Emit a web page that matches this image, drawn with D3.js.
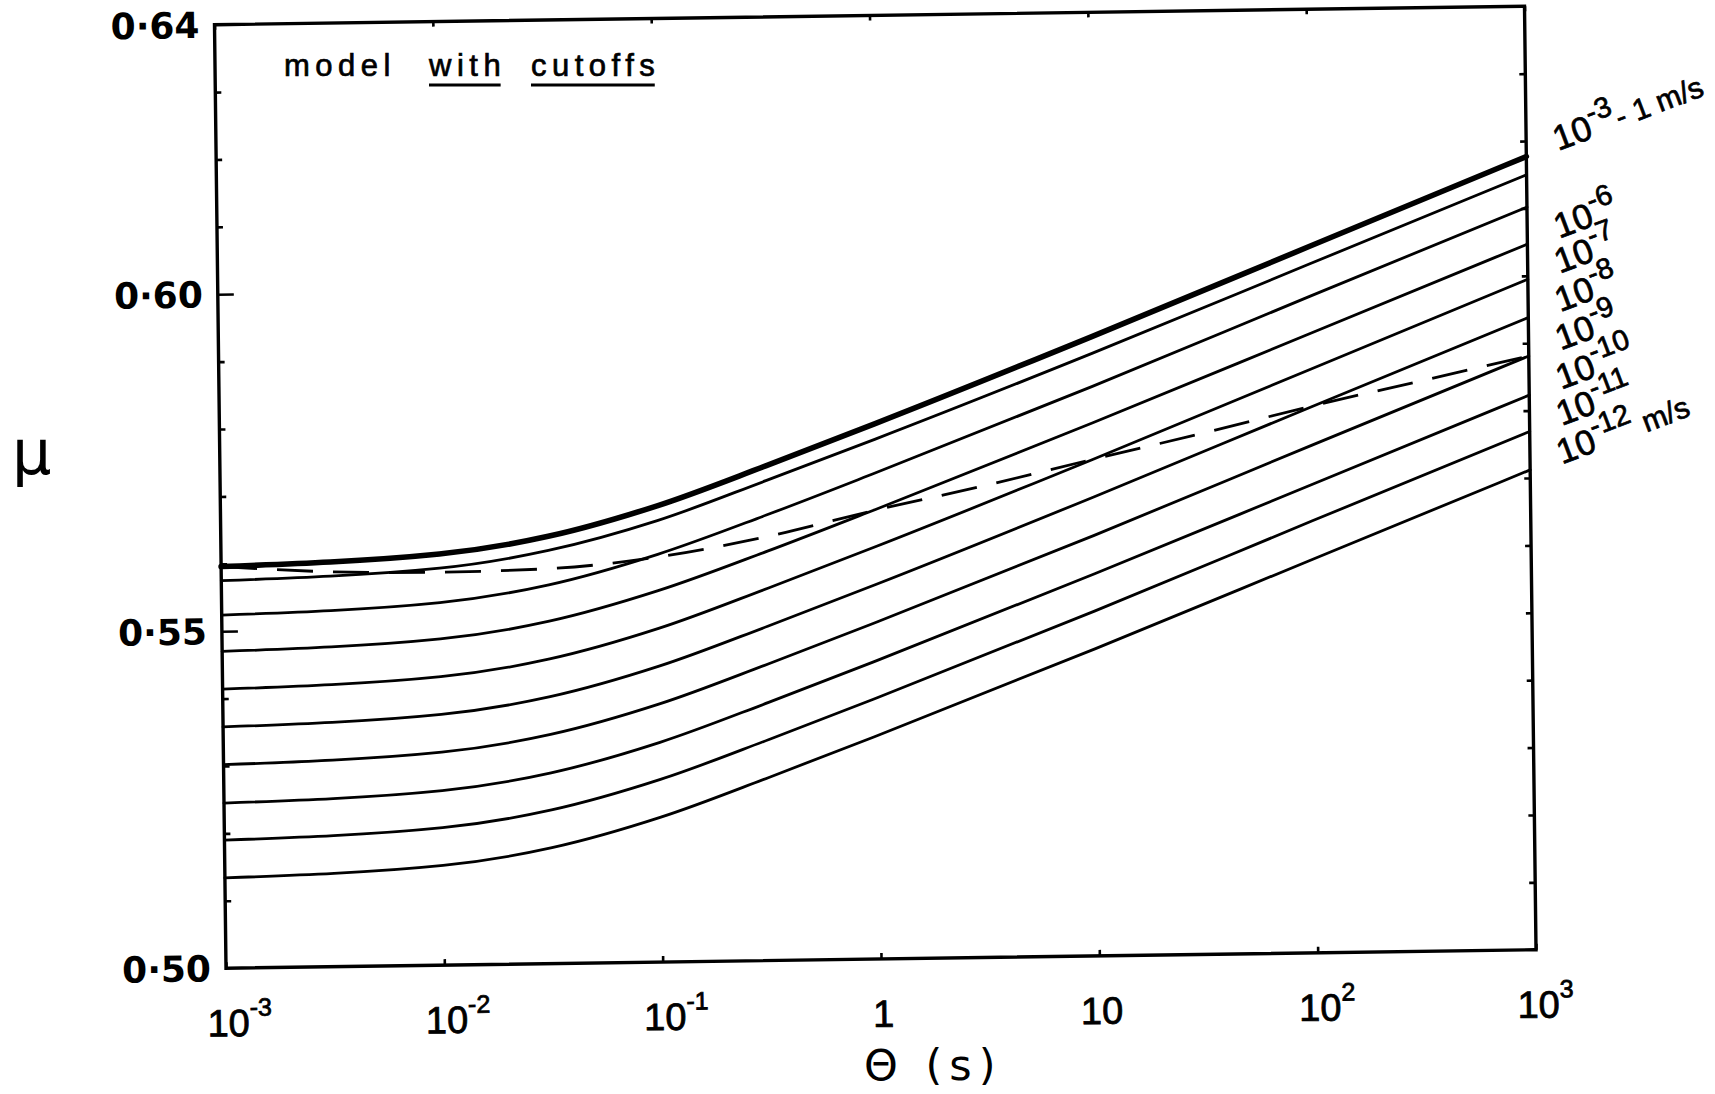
<!DOCTYPE html>
<html>
<head>
<meta charset="utf-8">
<script src="https://cdn.jsdelivr.net/npm/d3@7"></script>
<style>
body{margin:0;background:#fff;}
svg{display:block;}
text{fill:#000;}
.tick line{stroke:#000;stroke-width:2.6;}
</style>
</head>
<body>
<svg id="chart" width="1715" height="1094"></svg>
<script>
(function(){
var theta = [1e-3, 1e-2, 0.0316, 0.1, 0.316, 1, 10, 100, 1000];
// mu for each slip rate V
var muV3to1 = [0.5596, 0.5610, 0.5634, 0.5677, 0.5734, 0.5794, 0.5919, 0.6048, 0.6177];
var muV4  = [0.5575, 0.5589, 0.5613, 0.5655, 0.5712, 0.5771, 0.5894, 0.6022, 0.6150];
var muV5  = [0.5524, 0.5538, 0.5562, 0.5605, 0.5661, 0.5721, 0.5845, 0.5974, 0.6102];
var muV6  = [0.5470, 0.5484, 0.5508, 0.5551, 0.5607, 0.5667, 0.5791, 0.5919, 0.6047];
var muV7  = [0.5414, 0.5428, 0.5452, 0.5495, 0.5552, 0.5612, 0.5737, 0.5866, 0.5995];
var muV8  = [0.5358, 0.5372, 0.5396, 0.5439, 0.5496, 0.5556, 0.5681, 0.5810, 0.5938];
var muV9  = [0.5302, 0.5316, 0.5340, 0.5383, 0.5440, 0.5500, 0.5624, 0.5753, 0.5881];
var muV10 = [0.5245, 0.5259, 0.5283, 0.5326, 0.5383, 0.5443, 0.5567, 0.5695, 0.5823];
var muV11 = [0.5190, 0.5204, 0.5228, 0.5271, 0.5328, 0.5388, 0.5512, 0.5641, 0.5769];
var muV12 = [0.5134, 0.5148, 0.5172, 0.5215, 0.5272, 0.5332, 0.5456, 0.5584, 0.5712];
// dashed curve
var thetaDash = [1e-3, 0.00316, 1e-2, 0.0316, 0.1, 0.316, 1, 3.16, 10, 31.6, 100, 316, 1000];
var muDash = [0.5596, 0.5586, 0.5583, 0.5586, 0.5601, 0.5629, 0.5666, 0.5700, 0.5737, 0.5773, 0.5811, 0.5846, 0.5881];

var seriesNames = ['1e-3 - 1', '1e-4', '1e-5', '1e-6', '1e-7', '1e-8', '1e-9', '1e-10', '1e-11', '1e-12'];
var seriesValues = [muV3to1, muV4, muV5, muV6, muV7, muV8, muV9, muV10, muV11, muV12];

// labels at right end of curves
var rightLabelSeries = [0, 3, 4, 5, 6, 7, 8, 9];
var rightLabelSup = ['-3', '-6', '-7', '-8', '-9', '-10', '-11', '-12'];
var rightLabelTail = ['- 1 m/s', '', '', '', '', '', '', ' m/s'];

// axes
var xTicks = [1e-3, 1e-2, 1e-1, 1, 10, 100, 1000];
var xTickBase = ['10', '10', '10', '1', '10', '10', '10'];
var xTickSup = ['-3', '-2', '-1', '', '', '2', '3'];
var yMinor = [0.51, 0.52, 0.53, 0.54, 0.56, 0.57, 0.58, 0.59, 0.61, 0.62, 0.63];
var yRightTicks = [0.51, 0.52, 0.53, 0.54, 0.55, 0.56, 0.57, 0.58, 0.59, 0.60, 0.61, 0.62, 0.63];
var yMajor = [0.60, 0.55];
var yLabelVals = [0.64, 0.60, 0.55, 0.50];
var yLabelText = ['0\u00b764', '0\u00b760', '0\u00b755', '0\u00b750'];

var W = 1310, H = 943.5,
  svg = d3.select('#chart'),
  // the scanned figure sits slightly skewed on the page
  g = svg.append('g').attr('transform', 'matrix(1,-0.0141,0.0122,1,214.5,24.7)'),
  x = d3.scaleLog().domain([1e-3, 1e3]).range([0, W]),
  y = d3.scaleLinear().domain([0.50, 0.64]).range([H, 0]);

var clean = function(sel){ sel.select('.domain').remove(); };

g.append('g').call(d3.axisRight(y).tickValues(yMinor).tickSize(6).tickFormat('')).call(clean);
g.append('g').call(d3.axisRight(y).tickValues(yMajor).tickSize(16).tickFormat('')).call(clean);
g.append('g').attr('transform', 'translate(' + W + ',0)')
  .call(d3.axisLeft(y).tickValues(yRightTicks).tickSize(6).tickFormat('')).call(clean);
g.append('g').attr('transform', 'translate(0,' + H + ')')
  .call(d3.axisTop(x).tickValues(xTicks).tickSize(6).tickFormat('')).call(clean);
g.append('g').call(d3.axisBottom(x).tickValues(xTicks).tickSize(5).tickFormat('')).call(clean);

// frame
g.append('rect').attr('x', 0).attr('y', 0).attr('width', W).attr('height', H)
  .attr('fill', 'none').attr('stroke', '#000').attr('stroke-width', 3.4);

// y labels
g.selectAll('.ylab').data(yLabelVals).enter().append('text')
  .attr('class', 'ylab')
  .attr('x', -15).attr('y', function(d){ return y(d) + 13; })
  .attr('text-anchor', 'end')
  .style('font-family', 'DejaVu Sans').style('font-weight', 'bold').style('font-size', '36px')
  .text(function(d, i){ return yLabelText[i]; });

// x labels
g.selectAll('.xlab').data(xTicks).enter().append('text')
  .attr('class', 'xlab')
  .attr('y', H + 68)
  .style('font-family', 'Liberation Sans').style('font-size', '38px')
  .style('stroke', '#000').style('stroke-width', 0.8)
  .each(function(d, i){
    var t = d3.select(this);
    var b = t.append('tspan').text(xTickBase[i]);
    var w = b.node().getComputedTextLength();
    t.attr('x', x(d) - w / 2 + 2);
    if(xTickSup[i]) t.append('tspan').attr('dy', -20).style('font-size', '25px').text(xTickSup[i]);
  });

// curves
var line = d3.line()
  .x(function(d){ return x(d[0]); })
  .y(function(d){ return y(d[1]); })
  .curve(d3.curveMonotoneX);

g.selectAll('.curve').data(seriesValues).enter().append('path')
  .attr('class', 'curve')
  .attr('d', function(vals){ return line(theta.map(function(t, i){ return [t, vals[i]]; })); })
  .attr('fill', 'none').attr('stroke', '#000')
  .attr('stroke-linecap', 'round')
  .attr('stroke-width', function(d, i){ return i === 0 ? 5.6 : 2.8; });

g.append('path')
  .attr('d', line(thetaDash.map(function(t, i){ return [t, muDash[i]]; })))
  .attr('fill', 'none').attr('stroke', '#000').attr('stroke-width', 2.8)
  .attr('stroke-dasharray', '36,20');

// right-hand labels
g.selectAll('.rlab').data(rightLabelSeries).enter().append('text')
  .attr('class', 'rlab')
  .attr('transform', function(s){
    var v = seriesValues[s];
    return 'translate(' + (W + 32) + ',' + (y(v[v.length - 1]) - 5) + ') rotate(-20)';
  })
  .style('font-family', 'Liberation Sans').style('font-size', '35px')
  .style('stroke', '#000').style('stroke-width', 0.7)
  .style('white-space', 'pre')
  .each(function(s, i){
    var t = d3.select(this);
    t.append('tspan').text('10');
    t.append('tspan').attr('dy', -15).style('font-size', '29px').text(rightLabelSup[i]);
    if(rightLabelTail[i]) t.append('tspan').attr('dy', 15).attr('dx', 1)
      .style('font-size', '30px').text(rightLabelTail[i]);
  });

// annotation
var note = [['model', 284, false], ['with', 429, true], ['cutoffs', 531, true]];
note.forEach(function(n){
  var t = svg.append('text').attr('x', n[1]).attr('y', 76)
    .style('font-family', 'Liberation Sans').style('font-size', '31px')
    .style('stroke', '#000').style('stroke-width', 0.7)
    .style('letter-spacing', '5.5px').text(n[0]);
  if(n[2]){
    var w = t.node().getComputedTextLength() - 5.5;
    svg.append('line').attr('x1', n[1]).attr('x2', n[1] + w)
      .attr('y1', 85).attr('y2', 85).attr('stroke', '#000').attr('stroke-width', 2.8);
  }
});

// axis titles
svg.append('text').attr('x', 12).attr('y', 474)
  .style('font-family', 'DejaVu Sans').style('font-size', '62px').text('\u03bc');
svg.append('text').attr('x', 864).attr('y', 1080)
  .style('font-family', 'DejaVu Sans').style('font-size', '43px')
  .style('letter-spacing', '7px').style('white-space', 'pre').text('\u0398 (s)');
})();
</script>
</body>
</html>
